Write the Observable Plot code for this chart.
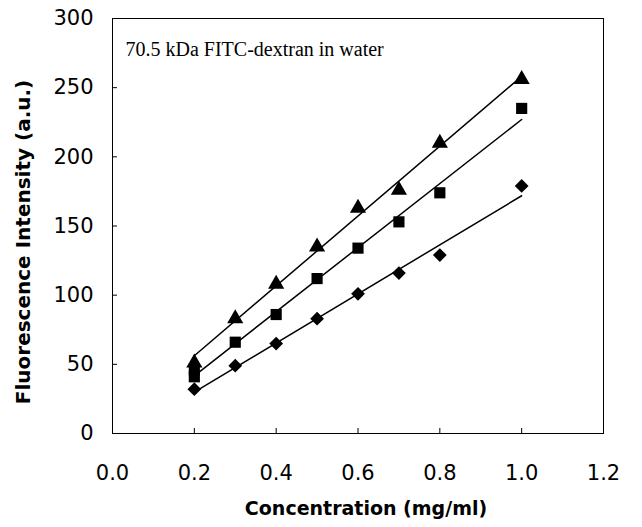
<!DOCTYPE html>
<html>
<head>
<meta charset="utf-8">
<script src="https://cdn.jsdelivr.net/npm/d3@7"></script>
<script src="https://cdn.jsdelivr.net/npm/@observablehq/plot@0.6"></script>
<style>
  html, body { margin: 0; padding: 0; background: #fff; }
  #chart svg { display: block; }
</style>
</head>
<body>
<div id="chart"></div>
<script>
// ---- data ----
const triangleConc = [0.2, 0.3, 0.4, 0.5, 0.6, 0.7, 0.8, 1.0];
const triangleIntensity = [51, 83, 108, 135, 163, 176, 210, 256];

const squareConc = [0.2, 0.2, 0.3, 0.4, 0.5, 0.6, 0.7, 0.8, 1.0];
const squareIntensity = [46, 41, 66, 86, 112, 134, 153, 174, 235];

const diamondConc = [0.2, 0.3, 0.4, 0.5, 0.6, 0.7, 0.8, 1.0];
const diamondIntensity = [32, 49, 65, 83, 101, 116, 129, 179];

const xTicks = [0, 0.2, 0.4, 0.6, 0.8, 1.0, 1.2];
const yTicks = [0, 50, 100, 150, 200, 250, 300];

const xLabel = "Concentration (mg/ml)";
const yLabel = "Fluorescence Intensity (a.u.)";
const annotation = "70.5 kDa FITC-dextran in water";

const toRows = (xs, ys) => xs.map((x, i) => ({x, y: ys[i]}));
const triangles = toRows(triangleConc, triangleIntensity);
const squares = toRows(squareConc, squareIntensity);
const diamonds = toRows(diamondConc, diamondIntensity);

const fitStyle = {x: "x", y: "y", ci: 0, stroke: "black", strokeWidth: 1.5};

const chart = Plot.plot({
  width: 642,
  height: 527,
  marginLeft: 112,
  marginRight: 39,
  marginTop: 18,
  marginBottom: 94,
  style: {fontFamily: "DejaVu Sans", fontSize: "21px", color: "black", background: "white"},
  x: {domain: [0, 1.2]},
  y: {domain: [0, 300]},
  marks: [
    Plot.frame({stroke: "black", strokeWidth: 1}),
    Plot.axisX(xTicks, {tickSize: 5, insetBottom: 5, tickPadding: 32, tickFormat: d3.format(".1f"), fontSize: 21, label: null}),
    Plot.axisY(yTicks, {tickSize: 5, insetLeft: 5, tickPadding: 19, tickFormat: d3.format("d"), fontSize: 21, label: null}),
    Plot.linearRegressionY(triangles, fitStyle),
    Plot.linearRegressionY(squares, fitStyle),
    Plot.linearRegressionY(diamonds, fitStyle),
    Plot.dot(triangles, {x: "x", y: "y", symbol: "triangle", r: 6, fill: "black"}),
    Plot.dot(squares, {x: "x", y: "y", symbol: "square", r: 6.3, fill: "black"}),
    Plot.dot(diamonds, {x: "x", y: "y", symbol: "diamond2", r: 6.2, fill: "black"}),
    Plot.text([annotation], {frameAnchor: "top-left", dx: 13, dy: 23, textAnchor: "start", fontFamily: "Liberation Serif", fontSize: 20}),
    Plot.text([xLabel], {frameAnchor: "bottom", dx: 8, dy: 81, textAnchor: "middle", fontWeight: "bold", fontSize: 19}),
    Plot.text([yLabel], {frameAnchor: "left", rotate: -90, dx: -89, dy: 16, textAnchor: "middle", fontWeight: "bold", fontSize: 20})
  ]
});
document.getElementById("chart").appendChild(chart);
</script>
</body>
</html>
